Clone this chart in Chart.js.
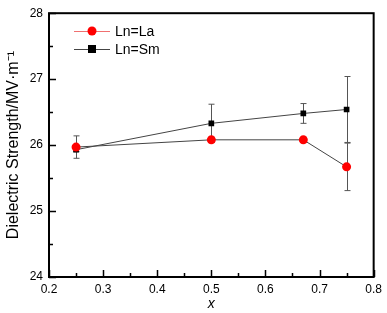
<!DOCTYPE html>
<html>
<head>
<meta charset="utf-8">
<script src="https://cdn.jsdelivr.net/npm/chart.js@4"></script>
<style>
  html, body { margin: 0; padding: 0; background: #fff; }
  #wrap { width: 387px; height: 313px; }
</style>
</head>
<body>
<div id="wrap"><canvas id="myChart" width="387" height="313"></canvas></div>
<script>
const xValues = [0.25, 0.5, 0.67, 0.75];
const laValues = [25.97, 26.08, 26.08, 25.67];
const laErrors = [0.17, 0.04, 0.04, 0.36];
const smValues = [25.93, 26.33, 26.48, 26.54];
const smErrors = [0.03, 0.29, 0.15, 0.5];
const xTicks = [0.2, 0.3, 0.4, 0.5, 0.6, 0.7, 0.8];
const yTicks = [24, 25, 26, 27, 28];

const FONT = 'Arial, "Liberation Sans", sans-serif';

// error bars, frame, inward ticks and legend
const extras = {
  id: 'extras',
  beforeDatasetsDraw(chart) {
    const c = chart.ctx;
    const xs = chart.scales.x, ys = chart.scales.y;
    c.save();
    c.strokeStyle = '#555';
    c.lineWidth = 1;
    chart.data.datasets.forEach(ds => {
      ds.data.forEach((p, i) => {
        const px = Math.round(xs.getPixelForValue(p.x)) + 0.5;
        const top = ys.getPixelForValue(p.y + ds.errors[i]);
        const bot = ys.getPixelForValue(p.y - ds.errors[i]);
        c.beginPath();
        c.moveTo(px, top); c.lineTo(px, bot);
        c.moveTo(px - 3, top); c.lineTo(px + 3, top);
        c.moveTo(px - 3, bot); c.lineTo(px + 3, bot);
        c.stroke();
      });
    });
    c.restore();
  },
  afterDraw(chart) {
    const c = chart.ctx;
    const a = chart.chartArea;
    c.save();
    c.strokeStyle = '#000';
    c.lineWidth = 2;
    c.strokeRect(a.left, a.top, a.right - a.left, a.bottom - a.top);
    // minor ticks every half step, major ticks at the labelled values
    c.lineWidth = 1.5;
    c.beginPath();
    for (let k = 0; k <= 12; k++) {
      const px = Math.round(a.left + (a.right - a.left) * k / 12) + 0.5;
      c.moveTo(px, a.bottom);
      c.lineTo(px, a.bottom - (k % 2 === 0 ? 7 : 4));
    }
    for (let k = 0; k <= 8; k++) {
      const py = Math.round(a.bottom - (a.bottom - a.top) * k / 8) + 0.5;
      c.moveTo(a.left, py);
      c.lineTo(a.left + (k % 2 === 0 ? 7 : 4), py);
    }
    c.stroke();

    // legend
    chart.data.datasets.forEach((ds, i) => {
      const y = 31 + i * 18;
      c.strokeStyle = i === 0 ? '#f07070' : '#444';
      c.lineWidth = 1;
      c.beginPath(); c.moveTo(74, y + 0.5); c.lineTo(110, y + 0.5); c.stroke();
      c.fillStyle = ds.pointBackgroundColor;
      if (ds.pointStyle === 'circle') {
        c.beginPath(); c.arc(92, y, 4.5, 0, Math.PI * 2); c.fill();
      } else {
        c.fillRect(88, y - 4, 8, 8);
      }
      c.fillStyle = '#000';
      c.font = '14px ' + FONT;
      c.textBaseline = 'middle';
      c.fillText(ds.label, 115, y + 1);
    });
    c.restore();
  }
};

const ctx = document.getElementById('myChart').getContext('2d');
const chart = new Chart(ctx, {
  type: 'scatter',
  data: {
    datasets: [{
      label: 'Ln=La',
      data: xValues.map((x, i) => ({ x: x, y: laValues[i] })),
      errors: laErrors,
      showLine: true,
      borderColor: '#444',
      borderWidth: 1,
      pointStyle: 'circle',
      pointRadius: 4.5,
      pointBackgroundColor: '#ff0000',
      pointBorderColor: '#ff0000',
      pointBorderWidth: 0
    }, {
      label: 'Ln=Sm',
      data: xValues.map((x, i) => ({ x: x, y: smValues[i] })),
      errors: smErrors,
      showLine: true,
      borderColor: '#444',
      borderWidth: 1,
      pointStyle: 'rect',
      pointRadius: 4,
      pointBackgroundColor: '#000',
      pointBorderColor: '#000',
      pointBorderWidth: 0
    }]
  },
  options: {
    responsive: false,
    animation: false,
    layout: { padding: { top: 5, right: 8, left: 0, bottom: 0 } },
    plugins: { legend: { display: false }, tooltip: { enabled: false } },
    scales: {
      x: {
        type: 'linear', min: 0.2, max: 0.8,
        afterBuildTicks: s => { s.ticks = xTicks.map(v => ({ value: v })); },
        afterFit: s => { s.height = 36; },
        grid: { display: false, drawTicks: false },
        border: { display: false },
        ticks: { color: '#000', font: { family: FONT, size: 12 }, padding: 5, callback: v => v.toFixed(1) },
        title: { display: true, text: 'x', color: '#000', font: { family: FONT, size: 14, style: 'italic' }, padding: { top: 0, bottom: 0 } }
      },
      y: {
        type: 'linear', min: 24, max: 28,
        afterBuildTicks: s => { s.ticks = yTicks.map(v => ({ value: v })); },
        afterFit: s => { s.width = 49; },
        grid: { display: false, drawTicks: false },
        border: { display: false },
        ticks: { color: '#000', font: { family: FONT, size: 12 }, padding: 6 },
        title: { display: true, text: 'Dielectric Strength/MV\u00b7m\u207b\u00b9', color: '#000', font: { family: FONT, size: 16 }, padding: { top: 4, bottom: 0 } }
      }
    }
  },
  plugins: [extras]
});
</script>
</body>
</html>
